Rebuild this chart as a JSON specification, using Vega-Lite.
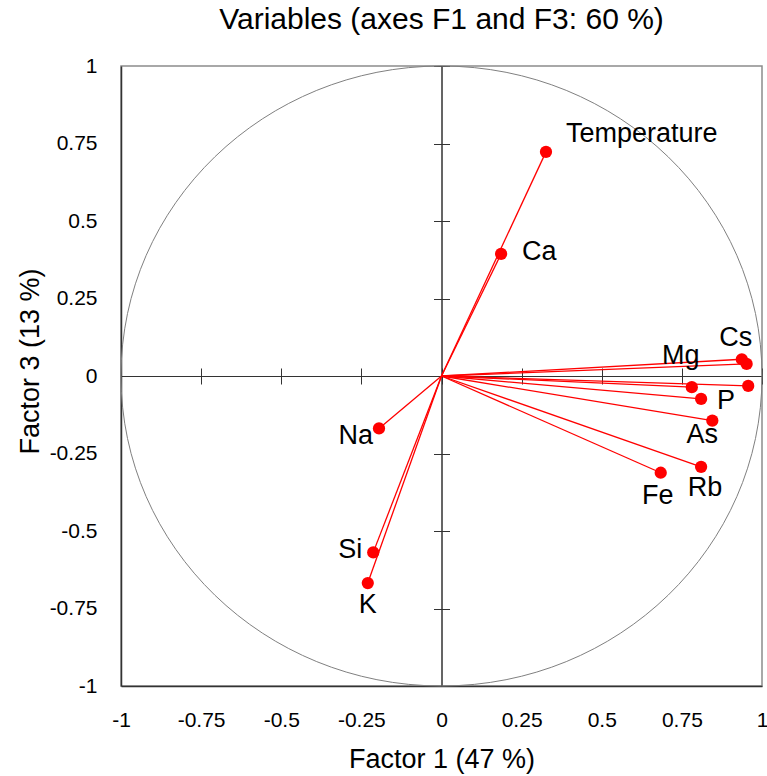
{
  "$schema": "https://vega.github.io/schema/vega-lite/v6.json",
  "width": 641,
  "height": 620,
  "autosize": "none",
  "padding": {"left": 121, "top": 66, "right": 5, "bottom": 90},
  "background": "white",
  "title": {"text": "Variables (axes F1 and F3: 60 %)", "font": "Liberation Sans", "fontSize": 30, "fontWeight": "normal", "color": "#000", "anchor": "middle", "frame": "group", "offset": 20},
  "config": {"view": {"stroke": "#8c8c8c", "strokeWidth": 1.5}},
  "data": {"values": [
    {"variable": "Temperature", "f1": 0.326, "f3": 0.723},
    {"variable": "Ca", "f1": 0.186, "f3": 0.394},
    {"variable": "Na", "f1": -0.195, "f3": -0.169},
    {"variable": "Si", "f1": -0.213, "f3": -0.569},
    {"variable": "K", "f1": -0.230, "f3": -0.668},
    {"variable": "Cs", "f1": 0.937, "f3": 0.054},
    {"variable": "unlabelled 1", "f1": 0.952, "f3": 0.039},
    {"variable": "unlabelled 2", "f1": 0.957, "f3": -0.032},
    {"variable": "Mg", "f1": 0.781, "f3": -0.036},
    {"variable": "P", "f1": 0.810, "f3": -0.074},
    {"variable": "As", "f1": 0.845, "f3": -0.144},
    {"variable": "Rb", "f1": 0.810, "f3": -0.293},
    {"variable": "Fe", "f1": 0.684, "f3": -0.312}
  ]},
  "resolve": {"axis": {"x": "independent", "y": "independent"}},
  "layer": [
    {
      "data": {"values": [{"f1": 0, "f3": 0}]},
      "mark": {"type": "point", "shape": "M -1 0 C -1 -0.5342 -0.5523 -0.9672 0 -0.9672 C 0.5523 -0.9672 1 -0.5342 1 0 C 1 0.5342 0.5523 0.9672 0 0.9672 C -0.5523 0.9672 -1 0.5342 -1 0 Z", "size": 410881, "filled": false, "stroke": "#808080", "strokeWidth": 1, "opacity": 1},
      "encoding": {
        "x": {"field": "f1", "type": "quantitative", "scale": {"domain": [-1, 1], "nice": false, "zero": false},
          "axis": {"orient": "bottom", "title": "Factor 1 (47 %)", "values": [-1, -0.75, -0.5, -0.25, 0, 0.25, 0.5, 0.75, 1], "labelExpr": "datum.value + ''", "ticks": false, "tickSize": 0, "domainColor": "#333", "domainWidth": 1.5, "grid": false, "labelFont": "Liberation Sans", "labelFontSize": 21, "labelColor": "#000", "labelPadding": 34, "labelBaseline": "middle", "labelFlush": false, "labelOverlap": false, "titleFont": "Liberation Sans", "titleFontSize": 27, "titleFontWeight": "normal", "titleColor": "#000", "titleBaseline": "alphabetic", "titleY": 81, "titleX": 320.5, "titleAlign": "center"}},
        "y": {"field": "f3", "type": "quantitative", "scale": {"domain": [-1, 1], "nice": false, "zero": false},
          "axis": {"orient": "left", "title": "Factor 3 (13 %)", "values": [-1, -0.75, -0.5, -0.25, 0, 0.25, 0.5, 0.75, 1], "labelExpr": "datum.value + ''", "ticks": false, "tickSize": 0, "domainColor": "#333", "domainWidth": 1.5, "grid": false, "labelFont": "Liberation Sans", "labelFontSize": 21, "labelColor": "#000", "labelPadding": 24, "labelBaseline": "middle", "labelFlush": false, "labelOverlap": false, "titleFont": "Liberation Sans", "titleFontSize": 27, "titleFontWeight": "normal", "titleColor": "#000", "titleBaseline": "alphabetic", "titleAngle": -90, "titleX": -83, "titleY": 295, "titleAlign": "center"}}
      }
    },
    {
      "mark": {"type": "rule", "color": "#ff0000", "strokeWidth": 1.3},
      "encoding": {
        "x": {"field": "f1", "type": "quantitative",
          "axis": {"orient": "bottom", "offset": -310, "values": [-1, -0.75, -0.5, -0.25, 0, 0.25, 0.5, 0.75, 1], "labels": false, "title": null, "tickSize": 8, "tickColor": "#333", "domainColor": "#333", "grid": false}},
        "y": {"field": "f3", "type": "quantitative",
          "axis": {"orient": "left", "offset": -320.5, "values": [-1, -0.75, -0.5, -0.25, 0, 0.25, 0.5, 0.75, 1], "labels": false, "title": null, "tickSize": 8, "tickColor": "#333", "domainColor": "#333", "grid": false}},
        "x2": {"datum": 0},
        "y2": {"datum": 0}
      }
    },
    {
      "mark": {"type": "circle", "color": "#ff0000", "size": 150, "opacity": 1},
      "encoding": {
        "x": {"field": "f1", "type": "quantitative",
          "axis": {"orient": "top", "offset": -310, "values": [-1, -0.75, -0.5, -0.25, 0, 0.25, 0.5, 0.75, 1], "labels": false, "title": null, "tickSize": 8, "tickColor": "#333", "domainColor": "#333", "grid": false}},
        "y": {"field": "f3", "type": "quantitative",
          "axis": {"orient": "right", "offset": -320.5, "values": [-1, -0.75, -0.5, -0.25, 0, 0.25, 0.5, 0.75, 1], "labels": false, "title": null, "tickSize": 8, "tickColor": "#333", "domainColor": "#333", "grid": false}}
      }
    },
    {"transform": [{"filter": "datum.variable === 'Temperature'"}], "mark": {"type": "text", "align": "left", "baseline": "middle", "dx": 20, "dy": -18, "font": "Liberation Sans", "fontSize": 27, "color": "#000"},
      "encoding": {"x": {"field": "f1", "type": "quantitative", "axis": null}, "y": {"field": "f3", "type": "quantitative", "axis": null}, "text": {"field": "variable"}}},
    {"transform": [{"filter": "datum.variable === 'Ca'"}], "mark": {"type": "text", "align": "left", "baseline": "middle", "dx": 21, "dy": -2, "font": "Liberation Sans", "fontSize": 27, "color": "#000"},
      "encoding": {"x": {"field": "f1", "type": "quantitative", "axis": null}, "y": {"field": "f3", "type": "quantitative", "axis": null}, "text": {"field": "variable"}}},
    {"transform": [{"filter": "datum.variable === 'P'"}], "mark": {"type": "text", "align": "left", "baseline": "middle", "dx": 16, "dy": 2, "font": "Liberation Sans", "fontSize": 27, "color": "#000"},
      "encoding": {"x": {"field": "f1", "type": "quantitative", "axis": null}, "y": {"field": "f3", "type": "quantitative", "axis": null}, "text": {"field": "variable"}}},
    {"transform": [{"filter": "datum.variable === 'Na'"}], "mark": {"type": "text", "align": "right", "baseline": "middle", "dx": -6, "dy": 8, "font": "Liberation Sans", "fontSize": 27, "color": "#000"},
      "encoding": {"x": {"field": "f1", "type": "quantitative", "axis": null}, "y": {"field": "f3", "type": "quantitative", "axis": null}, "text": {"field": "variable"}}},
    {"transform": [{"filter": "datum.variable === 'Si'"}], "mark": {"type": "text", "align": "right", "baseline": "middle", "dx": -11, "dy": -2, "font": "Liberation Sans", "fontSize": 27, "color": "#000"},
      "encoding": {"x": {"field": "f1", "type": "quantitative", "axis": null}, "y": {"field": "f3", "type": "quantitative", "axis": null}, "text": {"field": "variable"}}},
    {"transform": [{"filter": "datum.variable === 'K'"}], "mark": {"type": "text", "align": "center", "baseline": "middle", "dx": 0, "dy": 22, "font": "Liberation Sans", "fontSize": 27, "color": "#000"},
      "encoding": {"x": {"field": "f1", "type": "quantitative", "axis": null}, "y": {"field": "f3", "type": "quantitative", "axis": null}, "text": {"field": "variable"}}},
    {"transform": [{"filter": "datum.variable === 'Cs'"}], "mark": {"type": "text", "align": "center", "baseline": "middle", "dx": -6, "dy": -21, "font": "Liberation Sans", "fontSize": 27, "color": "#000"},
      "encoding": {"x": {"field": "f1", "type": "quantitative", "axis": null}, "y": {"field": "f3", "type": "quantitative", "axis": null}, "text": {"field": "variable"}}},
    {"transform": [{"filter": "datum.variable === 'Mg'"}], "mark": {"type": "text", "align": "center", "baseline": "middle", "dx": -11, "dy": -31, "font": "Liberation Sans", "fontSize": 27, "color": "#000"},
      "encoding": {"x": {"field": "f1", "type": "quantitative", "axis": null}, "y": {"field": "f3", "type": "quantitative", "axis": null}, "text": {"field": "variable"}}},
    {"transform": [{"filter": "datum.variable === 'As'"}], "mark": {"type": "text", "align": "center", "baseline": "middle", "dx": -10, "dy": 14, "font": "Liberation Sans", "fontSize": 27, "color": "#000"},
      "encoding": {"x": {"field": "f1", "type": "quantitative", "axis": null}, "y": {"field": "f3", "type": "quantitative", "axis": null}, "text": {"field": "variable"}}},
    {"transform": [{"filter": "datum.variable === 'Rb'"}], "mark": {"type": "text", "align": "center", "baseline": "middle", "dx": 4, "dy": 21, "font": "Liberation Sans", "fontSize": 27, "color": "#000"},
      "encoding": {"x": {"field": "f1", "type": "quantitative", "axis": null}, "y": {"field": "f3", "type": "quantitative", "axis": null}, "text": {"field": "variable"}}},
    {"transform": [{"filter": "datum.variable === 'Fe'"}], "mark": {"type": "text", "align": "center", "baseline": "middle", "dx": -3, "dy": 23, "font": "Liberation Sans", "fontSize": 27, "color": "#000"},
      "encoding": {"x": {"field": "f1", "type": "quantitative", "axis": null}, "y": {"field": "f3", "type": "quantitative", "axis": null}, "text": {"field": "variable"}}}
  ]
}
